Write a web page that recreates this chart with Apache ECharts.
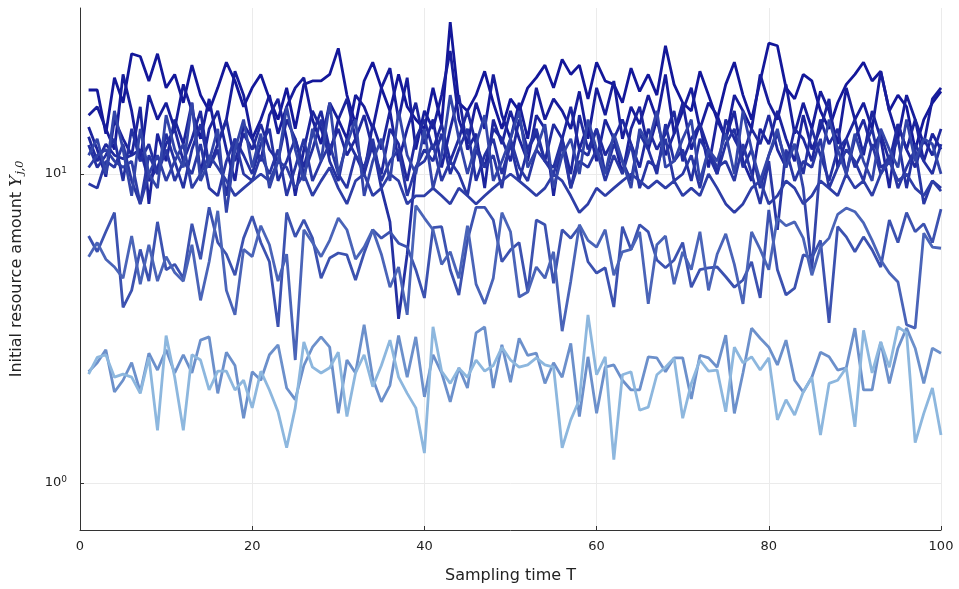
<!DOCTYPE html>
<html><head><meta charset="utf-8">
<script src="https://cdn.jsdelivr.net/npm/echarts@6/dist/echarts.min.js"></script>
<style>html,body{margin:0;padding:0;background:#fff}#c{width:959px;height:589px}</style>
</head><body><div id="c"></div>
<script>
const xTicks = [0, 20, 40, 60, 80, 100];
const yTickPowers = [0, 1];
const times = Array.from({length: 100}, (_, i) => i + 1);

const s1 = [18.7,18.7,13.5,20.5,17,24.5,24,20,24.5,19,
 21,17,22.5,18,16,19,23,20,16.5,19,
 21,17.5,15,19,14,19.5,20,20,21,25.5,
 18,14.5,20,23,19,16,21,16.5,15,14,
 19,14.5,31,17,16,18,21.5,17,14,17.5,
 16,19,20.5,22.5,19,23.5,21,22.5,17.5,23,
 20,19.5,17,22,18.5,21,18,26,19.5,17,
 16,21.5,18,15,19.5,23,18,15,20,26.5,
 26,19,17.5,21,20,16,14,17,19.5,21,
 23,20,21.5,16,18,16.5,12,15,17,18.5];
const s2 = [15.5,16.5,14,12,21,16,11,18,15,17,
 14,19.5,16,13,17.5,12.5,15,21.5,18,13,
 15,18,13.5,16.5,19,20.5,15,12.5,17,15,
 13,18,16.5,14,19,22,15,20.5,12,16,
 14,18,25,15,12.5,17,14,21,15.5,13,
 17,13,19,15,17.5,16,14,18.5,13,19,
 15.5,20,13,16.5,14.5,18,15,21,13.5,16,
 19,14,17,15.5,13,18,16,14,21,17,
 15,19.5,13.5,17,14,18.5,16,12.5,19,15,
 17,14,21.5,16,13,18,15,12.5,17.5,19];
const s3 = [14.2,12,9.8,15,13,11.5,16.5,8,13.5,11,
 15,12.5,17,10,14,16,12,9.5,14.5,13,
 11,15.5,17.5,13,8.5,12,16,14,11.5,15,
 17.5,13,10,14.5,12,16,11,14,17,12.5,
 15,10.5,14,18,12,13.5,9,15,12.5,16,
 13,11,15.5,14,8.5,13,16.5,12,14.5,11,
 15,13,10,14,16.5,12,15,11.5,13.5,17,
 12,14.5,10.5,15,13,16,11,9.5,14,12.5,
 16,13,11,15.5,12,14,17.5,10.5,13,15,
 11.5,16,13,9,14.5,12,15,11,13.5,12];
const s4 = [13.2,11,12.5,11.5,11.2,11.5,12,9.5,10.5,12.5,
 14,11,13,16,10.5,12.5,15,11,13.5,12,
 14.5,12,11,15,13,10.5,13.5,16,12,14,
 11.5,13,15.5,12,10,14,12.5,9.5,13,15,
 12,14.5,11,13,16,12.5,10.5,14,13,11,
 15,12,13.5,11,14.5,13,10,15.5,12,14,
 11.5,13,15,12.5,10.5,14,12,13.5,16,11,
 13,14.5,12,10,15,13,11.5,14,12.5,15.5,
 12,10.5,14,13,11,15,12.5,14,10,13,
 15,12,13.5,11,14.5,12,10.5,13,11.5,14];
const s5 = [12.4,10.5,11.5,13,9.5,14,11,12.5,10,13.5,
 11,9,12,14.5,10.5,12,8.5,13,11.5,10,
 12.5,14,9.5,11,13,10,12,15,11,9.5,
 13,11.5,10,12.5,9,7,3.4,5.5,10.5,12,
 11,13.5,10,12,14,9.5,11.5,13,10,12.5,
 9.5,12,14,11,10.5,13,9,12,11.5,14,
 10,12.5,11,9.5,13.5,12,10,14.5,11,12,
 9.5,13,11.5,10,12.5,14,10.5,12,9,11.5,
 13.5,11,12.5,10,14,11.5,9.5,12,13,10.5,
 12,14,10.5,11,13,9,12.5,11,10,12.5];
const s6 = [9.3,9,11,10.5,12.5,9.5,8,11.5,10,12,
 9.5,11,10,12.5,9,8.5,11,13,10,9.5,
 11.5,10,12,8.5,10.5,13,9.5,11,12.5,10,
 9,11.5,10.5,13,9.5,11,12,8.5,10.5,11,
 12.5,9.5,11,10,8.5,12,10.5,11.5,9,13,
 10.5,9.5,12,11,10,12.5,9,11,10.5,12,
 9.5,11.5,10,12.5,9,11,10.5,13,9.5,10,
 11.5,9,12,10.5,11,9.5,12.5,10,8,11,
 6.6,12,9.5,11,10.5,13,9,10.5,12,11,
 9.5,12.5,10,11.5,9,10.5,12,8,9.5,9];
const s7 = [10.5,11.5,12,11,10.5,11,8,10,11.5,9.5,
 11,12.5,9,10,11.5,10.5,9.5,8.5,9,9.5,
 10,9.5,11,10.5,9,10,8.5,9.5,10.5,9,
 8,9.5,10,8.5,9,10,9.5,8,8.5,8.5,
 9,8.5,8,9,8.5,8,8.5,9,9.5,10,
 9.5,9,8.5,9,10,9.5,8.5,7.5,8,9,
 8.5,9,9.5,10,9.5,9,9.5,9,9.5,8.5,
 9,8.5,10,9,8,7.5,8,9,9.5,8,
 8.5,9.5,9,8,8.5,9.5,9,8.5,10,9,
 9.5,8.5,10,11,9.5,10,9,8.5,9.5,8.8];
const s8 = [11.5,13,10,16,12,8.5,14,10,9,15.5,
 12,10.5,17,9.5,11,14,7.5,12,15,10.5,
 13.5,9,11,16.5,12,9.5,14,11,17,10,
 12.5,15,8.5,11,13,9.5,16,11.5,10,14,
 9,11.5,18,13,10,12.5,15.5,9.5,11,13,
 16,10.5,12,14.5,9,11.5,13,10,15,12,
 10,13.5,11,9,14,12.5,16,10.5,11,13,
 15,9.5,12,11,13.5,10,16,12,9.5,11.5,
 14,10.5,12.5,9,4.9,11,15,12,10,13.5,
 11,9.5,14,12,10.5,15,11,13,12.5,10];
const s9 = [6.3,5.6,6.5,7.5,3.7,4.2,5.7,4.5,7.0,4.9,
 5.1,4.6,6.9,5.3,7.8,6.0,5.5,4.7,6.2,7.3,
 6.0,5.2,3.2,7.5,6.26,7.1,6.2,4.6,5.35,5.55,
 5.47,4.54,5.55,6.6,6.2,6.5,5.97,5.8,4.9,3.97,
 6.7,6.75,4.9,4.06,6.1,7.8,7.8,7.1,5.2,5.68,
 6.0,4.15,7.1,6.85,4.43,6.6,6.2,6.75,5.2,4.78,
 4.97,3.71,6.75,5.7,6.85,6.5,5.27,4.97,5.27,6.0,
 4.3,4.9,4.97,5.0,4.65,4.3,4.54,5.2,3.97,7.65,
 4.9,4.06,4.27,5.47,5.35,6.1,3.3,6.75,6.26,5.6,
 6.26,5.68,5.0,7.1,6.0,7.5,6.5,6.9,6.0,7.7];
const s10 = [5.4,6.0,5.3,5.0,4.6,6.3,4.4,5.9,4.5,5.4,
 4.8,4.5,5.9,3.9,5.2,7.6,4.2,3.5,5.7,5.4,
 6.8,5.9,4.5,5.5,2.5,6.6,6.0,5.4,6.1,7.2,
 6.6,5.3,5.8,6.6,5.5,4.3,5.0,3.5,7.9,7.2,
 6.6,5.1,5.6,4.6,6.8,4.4,3.8,4.6,7.5,6.5,
 4.0,4.15,5.0,4.6,5.6,3.1,4.5,6.85,6.1,5.8,
 6.6,4.7,5.6,5.7,6.5,3.8,5.9,6.3,4.4,5.6,
 4.9,6.5,4.2,5.5,6.4,5.1,3.8,6.5,5.7,4.9,
 7.2,6.8,7.0,6.2,4.7,5.8,6.2,7.4,7.76,7.55,
 6.95,6.1,5.27,4.78,4.47,3.25,3.17,6.43,5.8,5.75];
const s11 = [2.29,2.45,2.7,1.97,2.15,2.45,1.97,2.63,2.32,2.7,
 2.27,2.6,2.27,2.9,2.97,1.95,2.65,2.4,1.62,2.29,
 2.15,2.6,2.8,2.03,1.86,2.4,2.75,2.97,2.75,1.68,
 2.5,2.27,3.25,2.18,1.83,2.07,3.0,2.2,2.97,1.9,
 2.6,2.27,1.83,2.36,2.03,3.06,3.2,2.03,2.8,2.12,
 2.94,2.59,2.63,2.1,2.45,2.2,2.83,1.64,2.56,1.68,
 2.37,2.41,2.15,2.0,2.0,2.56,2.54,2.29,2.54,2.54,
 1.87,2.59,2.54,2.37,3.01,1.68,2.27,3.17,2.94,2.75,
 2.41,2.9,2.15,1.97,2.2,2.65,2.56,2.32,2.36,3.17,
 2.0,2.0,2.86,2.1,2.73,3.17,2.73,2.1,2.73,2.63];
const s12 = [2.25,2.55,2.6,2.2,2.25,2.2,1.95,2.55,1.48,3.0,
 2.2,1.48,2.6,2.5,2.0,2.3,2.3,2.0,2.15,1.75,
 2.3,2.0,1.7,1.3,1.75,2.86,2.37,2.27,2.36,2.65,
 1.64,2.27,2.6,2.05,2.4,2.9,2.2,1.95,1.75,1.25,
 3.2,2.3,2.1,2.35,2.2,2.5,2.3,2.4,2.75,2.5,
 2.37,2.41,2.54,2.41,2.37,1.3,1.6,1.86,3.5,2.24,
 2.56,1.19,2.24,2.29,1.72,1.76,2.24,2.37,2.54,1.62,
 2.1,2.5,2.3,2.32,1.7,2.75,2.45,2.56,2.32,2.54,
 1.6,1.86,1.66,1.97,2.2,1.43,2.1,2.15,2.36,1.52,
 3.12,2.27,2.86,2.37,3.2,3.06,1.35,1.68,2.03,1.43];

const seriesValues = [s1, s2, s3, s4, s5, s6, s7, s8, s9, s10, s11, s12];
const seriesColors = ['#13179a','#171d9b','#1c249d','#202a9f','#2431a2','#2937a4','#2e3ea7','#3345a9','#3c52b0','#4a64b8','#6c90cb','#8db7de'];

const chart = echarts.init(document.getElementById('c'), null, {renderer: 'canvas'});
chart.setOption({
  animation: false,
  backgroundColor: '#ffffff',
  grid: {left: 79, right: 18, top: 8, bottom: 59, containLabel: false},
  xAxis: {
    type: 'value', min: xTicks[0], max: xTicks[xTicks.length - 1], interval: 20,
    axisLine: {show: true, lineStyle: {color: '#333', width: 1}},
    axisTick: {show: true, inside: true, length: 4, lineStyle: {color: '#333'}},
    axisLabel: {color: '#222', fontSize: 13, fontFamily: 'DejaVu Sans', margin: 10},
    splitLine: {show: true, lineStyle: {color: '#ebebeb', width: 1}},
    name: 'Sampling time T', nameLocation: 'middle', nameGap: 38,
    nameTextStyle: {fontSize: 16, color: '#222', fontFamily: 'DejaVu Sans'}
  },
  yAxis: {
    type: 'log', logBase: 10, min: 0.7044, max: 34.45,
    axisLine: {show: true, lineStyle: {color: '#333', width: 1}},
    axisTick: {show: true, inside: true, length: 4, lineStyle: {color: '#333'}},
    axisLabel: {
      color: '#222', fontFamily: 'DejaVu Sans', margin: 13, showMinLabel: false, showMaxLabel: false,
      formatter: function (v) {
        const e = Math.log10(v), r = Math.round(e);
        if (Math.abs(e - r) > 1e-6 || yTickPowers.indexOf(r) < 0) return '';
        return '{b|10}{s|' + r + '}';
      },
      rich: {
        b: {fontSize: 13, fontFamily: 'DejaVu Sans', color: '#222', lineHeight: 16},
        s: {fontSize: 9, fontFamily: 'DejaVu Sans', color: '#222', verticalAlign: 'top', padding: [0, 0, 7, 0]}
      }
    },
    splitLine: {show: true, showMinLine: false, showMaxLine: false, lineStyle: {color: '#ebebeb', width: 1}},
    name: '{n|Initial resource amount }{i|Y}{sub|j,0}', nameLocation: 'middle', nameGap: 54, nameRotate: 90,
    nameTextStyle: {
      color: '#222',
      rich: {
        n: {fontSize: 16, fontFamily: 'DejaVu Sans', color: '#222'},
        i: {fontSize: 17, fontFamily: 'DejaVu Serif', fontStyle: 'italic', color: '#222'},
        sub: {fontSize: 11, fontFamily: 'DejaVu Serif', fontStyle: 'italic', color: '#222', padding: [8, 0, 0, 1]}
      }
    }
  },
  series: seriesValues.map((vals, k) => ({
    type: 'line',
    data: times.map((t, i) => [t, vals[i]]),
    symbol: 'none', showSymbol: false,
    lineStyle: {width: 2.8, color: seriesColors[k]},
    itemStyle: {color: seriesColors[k]},
    emphasis: {disabled: true}
  }))
});
</script>
</body></html>
